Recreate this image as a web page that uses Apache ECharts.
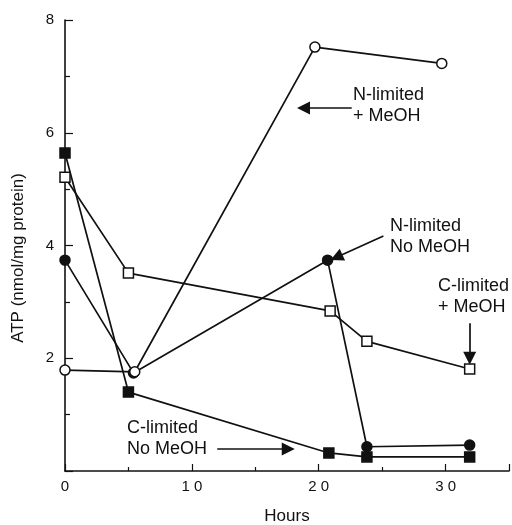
<!DOCTYPE html>
<html>
<head>
<meta charset="utf-8">
<script src="https://cdn.jsdelivr.net/npm/echarts@6/dist/echarts.min.js"></script>
<style>html,body{margin:0;padding:0;background:#fff}#c{width:512px;height:525px}</style>
</head>
<body>
<div id="c"></div>
<script>
// Hours / ATP values
var nLimMeOH_x = [0, 5.5, 19.7, 29.7];
var nLimMeOH_y = [1.79, 1.76, 7.52, 7.23];
var nLimNo_x = [0, 5.4, 20.7, 23.8, 31.9];
var nLimNo_y = [3.74, 1.74, 3.74, 0.43, 0.46];
var cLimMeOH_x = [0, 5.0, 20.9, 23.8, 31.9];
var cLimMeOH_y = [5.21, 3.51, 2.84, 2.30, 1.81];
var cLimNo_x = [0, 5.0, 20.8, 23.8, 31.9];
var cLimNo_y = [5.64, 1.40, 0.32, 0.25, 0.25];
var xTickLabels = ['0', '10', '20', '30'];
var yTickLabels = ['2', '4', '6', '8'];

function pairs(xs, ys) { return xs.map(function (x, i) { return [x, ys[i]]; }); }

var FONT = '"Liberation Sans", Arial, Helvetica, sans-serif';
var chart = echarts.init(document.getElementById('c'));

function lineSeries(name, xs, ys, symbol, filled, extra) {
  var s = {
    name: name, type: 'line', data: pairs(xs, ys),
    symbol: symbol, symbolSize: 10,
    showAllSymbol: true,
    lineStyle: { color: '#111', width: 1.7 },
    itemStyle: { color: filled ? '#111' : '#fff', borderColor: '#111', borderWidth: 1.5 },
    emphasis: { disabled: true },
    animation: false, z: 3
  };
  if (extra) for (var k in extra) s[k] = extra[k];
  return s;
}

var arrows = {
  silent: true, symbol: ['none', 'triangle'], symbolSize: 13,
  label: { show: false }, lineStyle: { color: '#111', width: 1.7, type: 'solid' },
  emphasis: { disabled: true }, animation: false,
  data: [
    [{ coord: [22.6, 6.44] }, { coord: [18.8, 6.44] }],
    [{ coord: [25.1, 4.17] }, { coord: [21.4, 3.79] }],
    [{ coord: [31.9, 2.62] }, { coord: [31.9, 2.00] }],
    [{ coord: [12.0, 0.39] }, { coord: [17.6, 0.39] }]
  ]
};

chart.setOption({
  backgroundColor: '#fff',
  animation: false,
  grid: { left: 65, right: 3, top: 20, bottom: 54, containLabel: false, outerBoundsMode: 'none' },
  xAxis: {
    type: 'value', min: 0, max: 35, interval: 10,
    name: 'Hours', nameLocation: 'middle', nameGap: 37,
    nameTextStyle: { fontFamily: FONT, fontSize: 17, color: '#111' },
    axisLine: { show: true, onZero: false, lineStyle: { color: '#111', width: 1.6 } },
    axisTick: { show: true, inside: true, length: 7, lineStyle: { color: '#111', width: 1.2 } },
    minorTick: { show: true, splitNumber: 2, length: 4, lineStyle: { color: '#111', width: 1.2 } },
    splitLine: { show: false },
    axisLabel: {
      fontFamily: FONT, fontSize: 15, color: '#111', margin: 8,
      formatter: function (v) { var i = xTickLabels.indexOf(String(v)); return i >= 0 ? xTickLabels[i].split('').join(' ') : ''; }
    }
  },
  yAxis: {
    type: 'value', min: 0, max: 8, interval: 2,
    axisLine: { show: true, onZero: false, lineStyle: { color: '#111', width: 1.6 } },
    axisTick: { show: true, inside: true, length: 8, lineStyle: { color: '#111', width: 1.2 } },
    minorTick: { show: true, splitNumber: 2, length: 5, lineStyle: { color: '#111', width: 1.2 } },
    splitLine: { show: false },
    axisLabel: {
      fontFamily: FONT, fontSize: 15, color: '#111', margin: 11,
      formatter: function (v) { var i = yTickLabels.indexOf(String(v)); return i >= 0 ? yTickLabels[i] : ''; }
    }
  },
  graphic: [
    { type: 'text', x: 18, y: 258, rotation: Math.PI / 2, silent: true,
      style: { text: 'ATP (nmol/mg protein)', font: '17px ' + FONT, fill: '#111', align: 'center', verticalAlign: 'middle' } },
    { type: 'text', left: 353, top: 85, silent: true, style: { text: 'N-limited\n+ MeOH', font: '18px ' + FONT, fill: '#111', lineHeight: 21 } },
    { type: 'text', left: 390, top: 216, silent: true, style: { text: 'N-limited\nNo MeOH', font: '18px ' + FONT, fill: '#111', lineHeight: 21 } },
    { type: 'text', left: 438, top: 276, silent: true, style: { text: 'C-limited\n+ MeOH', font: '18px ' + FONT, fill: '#111', lineHeight: 21 } },
    { type: 'text', left: 127, top: 418, silent: true, style: { text: 'C-limited\nNo MeOH', font: '18px ' + FONT, fill: '#111', lineHeight: 21 } }
  ],
  series: [
    lineSeries('C-limited No MeOH', cLimNo_x, cLimNo_y, 'rect', true, { markLine: arrows }),
    lineSeries('C-limited + MeOH', cLimMeOH_x, cLimMeOH_y, 'rect', false),
    lineSeries('N-limited No MeOH', nLimNo_x, nLimNo_y, 'circle', true),
    lineSeries('N-limited + MeOH', nLimMeOH_x, nLimMeOH_y, 'circle', false)
  ]
});
</script>
</body>
</html>
